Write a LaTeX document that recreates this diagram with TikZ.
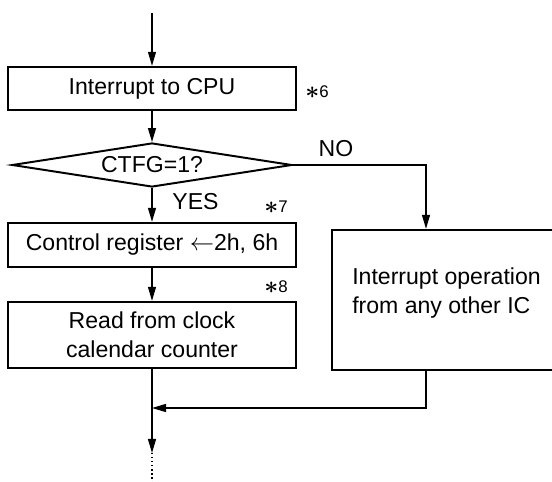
\documentclass[tikz,border=0pt]{standalone}
\usepackage{fontspec}
\setmainfont{Liberation Sans}
\usetikzlibrary{arrows.meta,shapes.geometric}

\newcommand{\notemark}[1]{\raisebox{-1pt}{\fontsize{16pt}{16pt}\selectfont\boldmath$\ast$}#1}

\begin{document}
\begin{tikzpicture}[
		font=\fontsize{16.4pt}{21pt}\selectfont,
		stepbox/.style={draw, line width=1.7pt, minimum width=7.2cm, inner sep=0pt},
		decision/.style={draw, diamond, aspect=6.4, line width=1.4pt, minimum width=7cm, minimum height=1.1cm, inner sep=0pt},
		flow/.style={line width=0.9pt, -{Triangle[length=3.5mm, width=2mm]}},
		note/.style={font=\fontsize{12pt}{14pt}\selectfont, inner sep=0pt},
	]
		\useasboundingbox (0,0) rectangle (13.8,-12.05);
		\clip (0,0) rectangle (13.8,-12.05);

		\node[stepbox, minimum height=1.075cm] (cpu) at (3.8,-2.2125) {Interrupt to CPU};
		\node[decision] (ctfg) at (3.8,-4.125) {CTFG=1?};
		\node[stepbox, minimum height=1.1cm] (creg) at (3.8,-6.125) {Control register $\leftarrow$2h, 6h};
		\node[stepbox, minimum height=1.65cm, align=center] (read) at (3.8,-8.375) {Read from clock\\calendar counter};
		\node[stepbox, minimum width=5.725cm, minimum height=3.5cm, align=left, text depth=0.47cm] (other) at (11.1625,-7.5) {Interrupt operation\\from any other IC};

		\node[note] (mark6) at (7.925,-2.3) {\notemark{6}};
		\node[note] (mark7) at (6.9,-5.175) {\notemark{7}};
		\node[note] (mark8) at (6.9,-7.175) {\notemark{8}};
		\node (no) at (8.4,-3.725) {NO};
		\node (yes) at (4.8875,-5.05) {YES};

		\path (3.8,-0.325) coordinate (top)
			(10.65,-4.125) coordinate (nocorner)
			(3.8,-10.2) coordinate (join)
			(3.8,-11.325) coordinate (out)
			(3.8,-12.05) coordinate (cont);

		\draw[flow] (top) -- (cpu);
		\draw[flow] (cpu) -- (ctfg);
		\draw[flow] (ctfg) -- (creg);
		\draw[flow] (creg) -- (read);
		\draw[flow] (ctfg.east) -- (nocorner) -- (nocorner |- other.north);
		\draw[flow] (nocorner |- other.south) -- (nocorner |- join) -- (join);
		\draw[flow] (read) -- (out);
		\draw[line width=0.9pt, dotted] (out) -- (cont);
	\end{tikzpicture}
\end{document}
